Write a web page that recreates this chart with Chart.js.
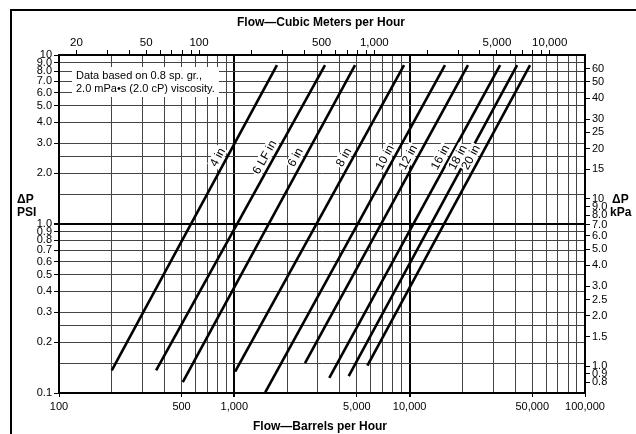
<!DOCTYPE html>
<html>
<head>
<meta charset="utf-8">
<script src="https://cdn.jsdelivr.net/npm/chart.js@4/dist/chart.umd.min.js"></script>
<style>
  html, body { margin: 0; padding: 0; background: #fff; }
  canvas { display: block; }
</style>
</head>
<body>
<canvas id="flowChart" width="636" height="434"></canvas>
<script>
// pipe lines (barrels per hour / psi at each end)
var pipeSizes = ['4 in', '6 LF in', '6 in', '8 in', '10 in', '12 in', '16 in', '18 in', '20 in'];
var flowLow = [200, 358, 508, 1010, 1500, 2530, 3480, 4490, 5740];
var flowHigh = [1750, 3290, 4880, 9290, 15900, 21500, 32800, 41000, 48600];
var psiLow = [0.136, 0.136, 0.116, 0.134, 0.101, 0.15, 0.123, 0.126, 0.145];
var psiHigh = [8.7, 8.7, 8.7, 8.7, 8.7, 8.7, 8.7, 8.7, 8.7];

// axis ticks and their labels ('' = grid line only)
var bblTicks = [100, 200, 300, 400, 500, 600, 700, 800, 900,
  1000, 2000, 3000, 4000, 5000, 6000, 7000, 8000, 9000,
  10000, 20000, 30000, 40000, 50000, 60000, 70000, 80000, 90000, 100000];
var bblLabels = ['100', '', '', '', '500', '', '', '', '',
  '1,000', '', '', '', '5,000', '', '', '', '',
  '10,000', '', '', '', '50,000', '', '', '', '', '100,000'];
var psiTicks = [0.1, 0.15, 0.2, 0.25, 0.3, 0.4, 0.5, 0.6, 0.7, 0.8, 0.9,
  1, 1.5, 2, 2.5, 3, 4, 5, 6, 7, 8, 9, 10];
var psiLabels = ['0.1', '', '0.2', '', '0.3', '0.4', '0.5', '0.6', '0.7', '0.8', '0.9',
  '1.0', '', '2.0', '', '3.0', '4.0', '5.0', '6.0', '7.0', '8.0', '9.0', '10'];
var m3Ticks = [20, 30, 40, 50, 60, 70, 80, 90, 100, 200, 300, 400, 500, 600, 700, 800, 900,
  1000, 2000, 3000, 4000, 5000, 6000, 7000, 8000, 9000, 10000];
var m3Labels = ['20', '', '', '50', '', '', '', '', '100', '', '', '', '500', '', '', '', '',
  '1,000', '', '', '', '5,000', '', '', '', '', '10,000'];
var kpaTicks = [0.8, 0.9, 1, 1.5, 2, 2.5, 3, 4, 5, 6, 7, 8, 9, 10, 15, 20, 25, 30, 40, 50, 60];
var kpaLabels = ['0.8', '0.9', '1.0', '1.5', '2.0', '2.5', '3.0', '4.0', '5.0', '6.0', '7.0',
  '8.0', '9.0', '10', '15', '20', '25', '30', '40', '50', '60'];

var BBL_PER_M3 = 6.2898;
var FONT = '"Liberation Sans", Arial, Helvetica, sans-serif';

Chart.defaults.font.family = FONT;
Chart.defaults.font.size = 11;
Chart.defaults.color = '#000';

var datasets = pipeSizes.map(function (name, i) {
  return {
    label: name,
    data: [{ x: flowLow[i], y: psiLow[i] }, { x: flowHigh[i], y: psiHigh[i] }],
    borderColor: '#000',
    borderWidth: 2.6,
    pointRadius: 0,
    fill: false,
    xAxisID: 'x',
    yAxisID: 'y'
  };
});

function setTicks(values) {
  return function (scale) {
    scale.ticks = values.map(function (v) { return { value: v }; });
  };
}

// text drawn on top: frame, titles, note, pipe labels
var extras = {
  id: 'extras',
  beforeDatasetsDraw: function (chart) {
    var ctx = chart.ctx;
    ctx.save();
    ctx.fillStyle = '#fff';
    ctx.fillRect(72, 67, 147, 30);
    ctx.fillStyle = '#000';
    ctx.font = '11px ' + FONT;
    ctx.textBaseline = 'middle';
    ctx.textAlign = 'left';
    ctx.fillText('Data based on 0.8 sp. gr.,', 76, 76);
    ctx.fillText('2.0 mPa\u2022s (2.0 cP) viscosity.', 76, 89);
    ctx.restore();
  },
  afterDraw: function (chart) {
    var ctx = chart.ctx;
    var xs = chart.scales.x, ys = chart.scales.y;
    ctx.save();
    // outer frame
    ctx.fillStyle = '#000';
    ctx.fillRect(10, 9, 2, 434 - 9);
    ctx.fillRect(10, 9, 636 - 10, 2);

    // axis titles
    ctx.font = 'bold 12px ' + FONT;
    ctx.textAlign = 'center';
    ctx.textBaseline = 'middle';
    ctx.fillText('Flow\u2014Cubic Meters per Hour', 321, 23);
    ctx.fillText('Flow\u2014Barrels per Hour', 320, 427);
    ctx.textAlign = 'left';
    ctx.fillText('\u0394P', 17, 200);
    ctx.fillText('PSI', 17, 213);
    ctx.fillText('\u0394P', 612, 200);
    ctx.fillText('kPa', 610, 213);

    // pipe size labels along each line
    ctx.font = '12px ' + FONT;
    ctx.textAlign = 'center';
    var labelPsi = 2.35;
    pipeSizes.forEach(function (name, i) {
      var x0 = xs.getPixelForValue(flowLow[i]), y0 = ys.getPixelForValue(psiLow[i]);
      var x1 = xs.getPixelForValue(flowHigh[i]), y1 = ys.getPixelForValue(psiHigh[i]);
      var t = (Math.log(labelPsi) - Math.log(psiLow[i])) / (Math.log(psiHigh[i]) - Math.log(psiLow[i]));
      var px = x0 + t * (x1 - x0), py = y0 + t * (y1 - y0);
      var a = Math.atan2(y1 - y0, x1 - x0);
      var len = Math.hypot(x1 - x0, y1 - y0);
      var dx = (x1 - x0) / len, dy = (y1 - y0) / len;
      var cx = px + dy * 8.5, cy = py - dx * 8.5;
      var w = ctx.measureText(name).width;
      ctx.save();
      ctx.translate(cx, cy);
      ctx.rotate(a);
      ctx.fillStyle = '#fff';
      ctx.fillRect(-w / 2 - 1, -6, w + 2, 12);
      ctx.fillStyle = '#000';
      ctx.fillText(name, 0, 0.5);
      ctx.restore();
    });
    ctx.restore();
  }
};

function isMajor(v, list) { return list.indexOf(v) >= 0; }

var canvas = document.getElementById('flowChart');
var ctx = canvas.getContext('2d');
window.flowChartInstance = new Chart(ctx, {
  type: 'line',
  data: { datasets: datasets },
  plugins: [extras],
  options: {
    responsive: false,
    animation: false,
    devicePixelRatio: 1,
    layout: { padding: 0 },
    plugins: { legend: { display: false }, tooltip: { enabled: false } },
    scales: {
      x: {
        type: 'logarithmic',
        position: 'bottom',
        min: 100,
        max: 100000,
        afterBuildTicks: setTicks(bblTicks),
        afterFit: function (s) { s.height = 41; },
        ticks: {
          autoSkip: false, maxRotation: 0, padding: 3,
          callback: function (v, i) { return bblLabels[i]; }
        },
        grid: {
          tickLength: 4,
          color: function (c) { return isMajor(c.tick && c.tick.value, [1000, 10000]) ? '#000' : '#444'; },
          lineWidth: function (c) { return isMajor(c.tick && c.tick.value, [1000, 10000]) ? 2 : 1; },
          tickColor: function (c) { return bblLabels[c.index] ? '#000' : 'rgba(0,0,0,0)'; }
        },
        border: { display: true, color: '#000', width: 2 }
      },
      x2: {
        type: 'logarithmic',
        position: 'top',
        min: 100 / BBL_PER_M3,
        max: 100000 / BBL_PER_M3,
        afterBuildTicks: setTicks(m3Ticks),
        afterFit: function (s) { s.height = 55; },
        ticks: {
          autoSkip: false, maxRotation: 0, padding: 0,
          font: { size: 11.5 },
          callback: function (v, i) { return m3Labels[i]; }
        },
        grid: { drawOnChartArea: false, tickLength: 5, color: '#000', lineWidth: 1 },
        border: { display: true, color: '#000', width: 2 }
      },
      y: {
        type: 'logarithmic',
        position: 'left',
        min: 0.1,
        max: 10,
        afterBuildTicks: setTicks(psiTicks),
        afterFit: function (s) { s.width = 59; },
        ticks: {
          autoSkip: false, padding: 2,
          callback: function (v, i) { return psiLabels[i]; }
        },
        grid: {
          tickLength: 5,
          color: function (c) { return (c.tick && c.tick.value === 1) ? '#000' : '#444'; },
          lineWidth: function (c) { return (c.tick && c.tick.value === 1) ? 2 : 1; },
          tickColor: function (c) { return psiLabels[c.index] ? '#000' : 'rgba(0,0,0,0)'; }
        },
        border: { display: true, color: '#000', width: 2 }
      },
      y2: {
        type: 'logarithmic',
        position: 'right',
        min: 0.69,
        max: 72.5,
        afterBuildTicks: setTicks(kpaTicks),
        afterFit: function (s) { s.width = 51; },
        ticks: {
          autoSkip: false, padding: 2,
          callback: function (v, i) { return kpaLabels[i]; }
        },
        grid: { drawOnChartArea: false, tickLength: 5, color: '#000', lineWidth: 1 },
        border: { display: true, color: '#000', width: 2 }
      }
    }
  }
});
</script>
</body>
</html>
